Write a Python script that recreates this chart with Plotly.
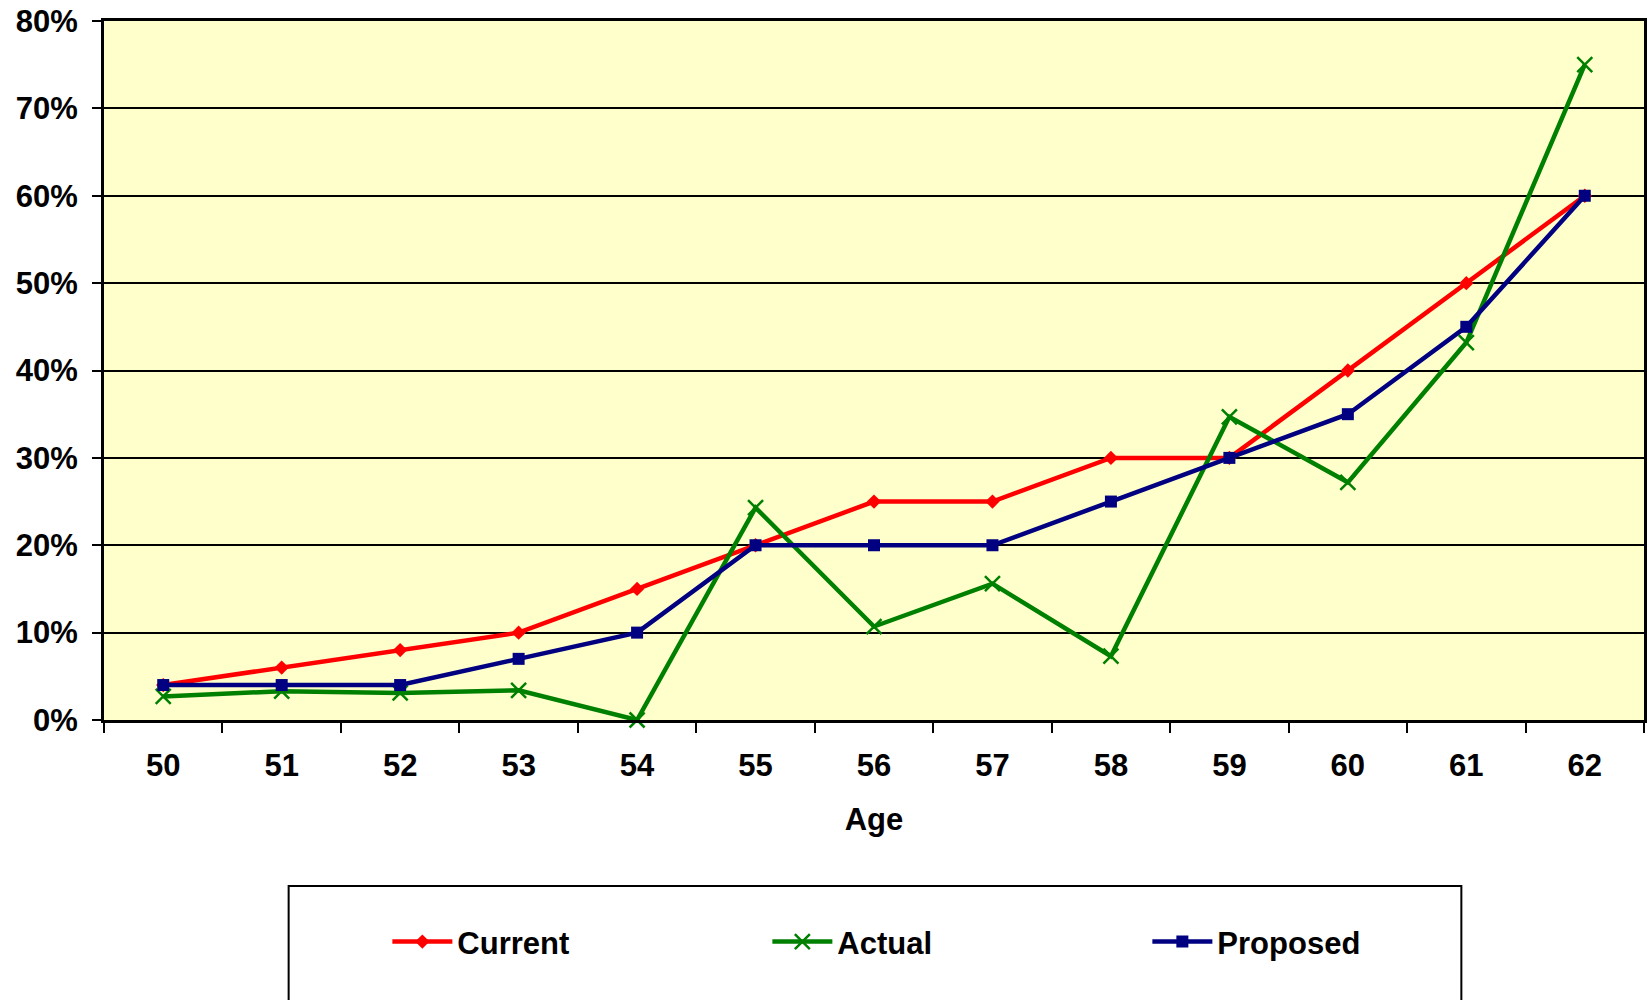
import plotly.graph_objects as go

ages = ["50", "51", "52", "53", "54", "55", "56", "57", "58", "59", "60", "61", "62"]
current = [0.04, 0.06, 0.08, 0.10, 0.15, 0.20, 0.25, 0.25, 0.30, 0.30, 0.40, 0.50, 0.60]
actual = [0.027, 0.033, 0.031, 0.034, 0.0, 0.243, 0.107, 0.156, 0.073, 0.347, 0.272, 0.432, 0.750]
proposed = [0.04, 0.04, 0.04, 0.07, 0.10, 0.20, 0.20, 0.20, 0.25, 0.30, 0.35, 0.45, 0.60]
y_ticks = [0, 0.1, 0.2, 0.3, 0.4, 0.5, 0.6, 0.7, 0.8]

FONT = "Liberation Sans, Arial, sans-serif"

fig = go.Figure()
fig.add_trace(go.Scatter(
    x=ages, y=current, name="Current", mode="lines+markers",
    line=dict(color="#FF0000", width=4.5),
    marker=dict(symbol="diamond", size=11, color="#FF0000"),
    cliponaxis=False))
fig.add_trace(go.Scatter(
    x=ages, y=actual, name="Actual", mode="lines+markers",
    line=dict(color="#008000", width=4.5),
    marker=dict(symbol="x-thin", size=15, color="#008000",
                line=dict(color="#008000", width=2.5)),
    cliponaxis=False))
fig.add_trace(go.Scatter(
    x=ages, y=proposed, name="Proposed", mode="lines+markers",
    line=dict(color="#000080", width=4.5),
    marker=dict(symbol="square", size=12, color="#000080"),
    cliponaxis=False))

fig.update_layout(
    width=1648, height=1000,
    margin=dict(l=104, r=1, t=21, b=280),
    paper_bgcolor="white",
    plot_bgcolor="#FFFFCC",
    font=dict(family=FONT, size=31, color="black"),
    showlegend=True,
    legend=dict(
        orientation="h",
        x=0.184, xanchor="left",
        y=-0.3175, yanchor="middle",
        entrywidth=305, entrywidthmode="pixels",
        itemwidth=60,
        font=dict(family=FONT, size=31, color="black", weight="bold"),
        bgcolor="rgba(0,0,0,0)",
        borderwidth=0,
    ),
)

fig.update_xaxes(
    type="category",
    range=[-0.5, 12.5],
    tickson="boundaries",
    ticks="outside", ticklen=10, tickwidth=2, tickcolor="black",
    showline=True, linecolor="black", linewidth=3, mirror=True,
    showgrid=False,
    tickfont=dict(family=FONT, size=31, color="black", weight="bold"),
    ticklabelstandoff=16,
    title=dict(text="<b>Age</b>", font=dict(family=FONT, size=31, color="black"), standoff=27),
)
fig.update_yaxes(
    range=[0, 0.8],
    tickvals=y_ticks,
    tickformat=".0%",
    ticks="outside", ticklen=9, tickwidth=2, tickcolor="black",
    showline=True, linecolor="black", linewidth=3, mirror=True,
    showgrid=True, gridcolor="black", gridwidth=2,
    zeroline=False,
    tickfont=dict(family=FONT, size=31, color="black", weight="bold"),
    ticklabelstandoff=8,
)

# legend frame (extends past the bottom edge of the page)
fig.add_shape(type="rect", xref="paper", yref="paper",
              x0=(289 - 104) / 1543, x1=(1464 - 104) / 1543,
              y0=(720 - 886) / 699, y1=(720 - 1020) / 699,
              line=dict(color="black", width=2), fillcolor="rgba(0,0,0,0)", layer="above")

fig.write_html(
    "out.html",
    config={"displayModeBar": False},
    post_script="document.body.style.margin='0px';document.body.style.overflow='hidden';",
)
